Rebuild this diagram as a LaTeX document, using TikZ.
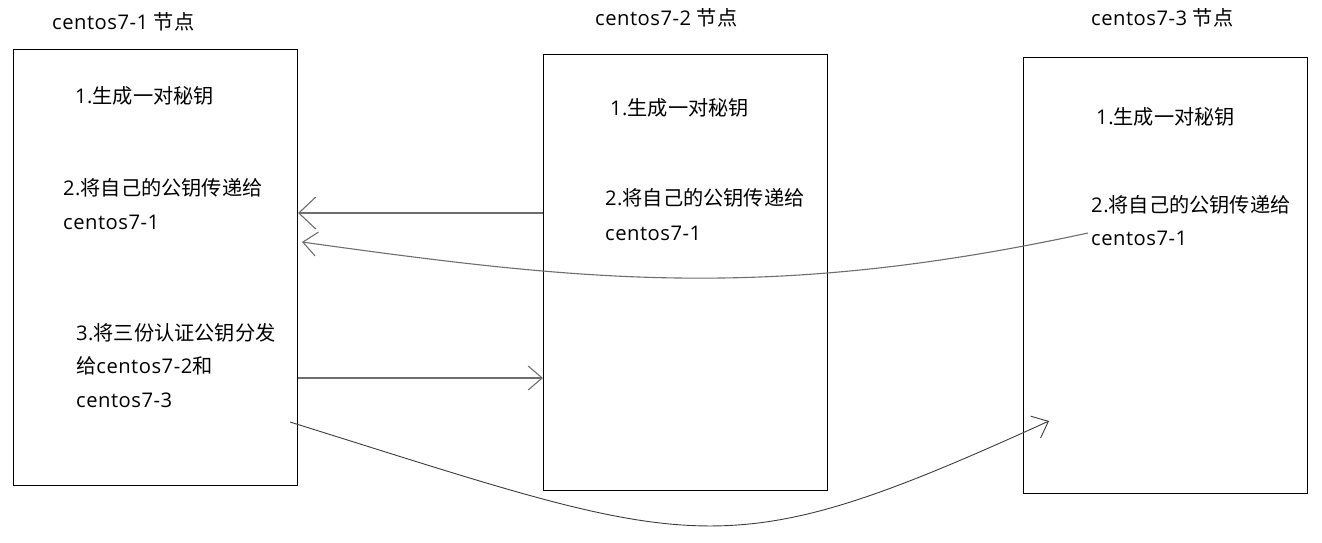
\documentclass[tikz,border=0pt]{standalone}
\usepackage{fontspec}
\setmainfont[LetterSpace=2.5]{Open Sans}
\newfontfamily\cjk{Noto Sans CJK SC}
\usetikzlibrary{arrows.meta}
\begin{document}
\begin{tikzpicture}[x=1pt,y=-1pt,
  box/.style={draw=black, line width=1pt, minimum width=284pt, minimum height=436pt, anchor=north west, inner sep=0pt},
  txt/.style={anchor=base west, inner sep=0pt, font=\fontsize{20.2}{24}\selectfont, text=black},
  conn/.style={draw={rgb,255:red,110;green,110;blue,110}, line width=1.1pt},
  bigbarb/.style={-{Straight Barb[length=17pt,width=32pt]}},
  smallbarb/.style={-{Straight Barb[length=14pt,width=24pt]}}]
\useasboundingbox (0,0) rectangle (1322,542);
% boxes
\node[box] (b1) at (13,49) {};
\node[box] (b2) at (543,54) {};
\node[box] (b3) at (1023,57) {};
% titles
\node[txt] (h1) at (52,29) {centos7-1 {\cjk 节点}};
\node[txt] (h2) at (595,25) {centos7-2 {\cjk 节点}};
\node[txt] (h3) at (1091,25) {centos7-3 {\cjk 节点}};
% box 1
\node[txt] (t11) at (75,103) {1.{\cjk 生成一对秘钥}};
\node[txt] (t12) at (63,195) {2.{\cjk 将自己的公钥传递给}};
\node[txt] (t13) at (63,229) {centos7-1};
\node[txt] (t14) at (76,340) {3.{\cjk 将三份认证公钥分发}};
\node[txt] (t15) at (76,373) {{\cjk 给}centos7-2{\cjk 和}};
\node[txt] (t16) at (76,407) {centos7-3};
% box 2
\node[txt] (t21) at (610,115) {1.{\cjk 生成一对秘钥}};
\node[txt] (t22) at (605,205) {2.{\cjk 将自己的公钥传递给}};
\node[txt] (t23) at (605,240) {centos7-1};
% box 3
\node[txt] (t31) at (1096,124) {1.{\cjk 生成一对秘钥}};
\node[txt] (t32) at (1091,212) {2.{\cjk 将自己的公钥传递给}};
\node[txt] (t33) at (1091,245) {centos7-1};
% connector ends
\coordinate (s2) at (1088,233);
\coordinate (e2) at (302,242);
\coordinate (s4) at (290,422);
\coordinate (e4) at (1049,421);
% connectors
\draw[conn, bigbarb] (b2.west |- 0,213) -- (b1.east |- 0,213);
\draw[conn, smallbarb] (s2) .. controls (768,302) and (582,281) .. (e2);
\draw[conn, smallbarb] (b1.east |- 0,378) -- (b2.west |- 0,378);
\draw[conn, draw={rgb,255:red,60;green,60;blue,60}, line width=0.9pt, smallbarb] (s4) .. controls (700,550) and (719,571) .. (e4);
\end{tikzpicture}
\end{document}
